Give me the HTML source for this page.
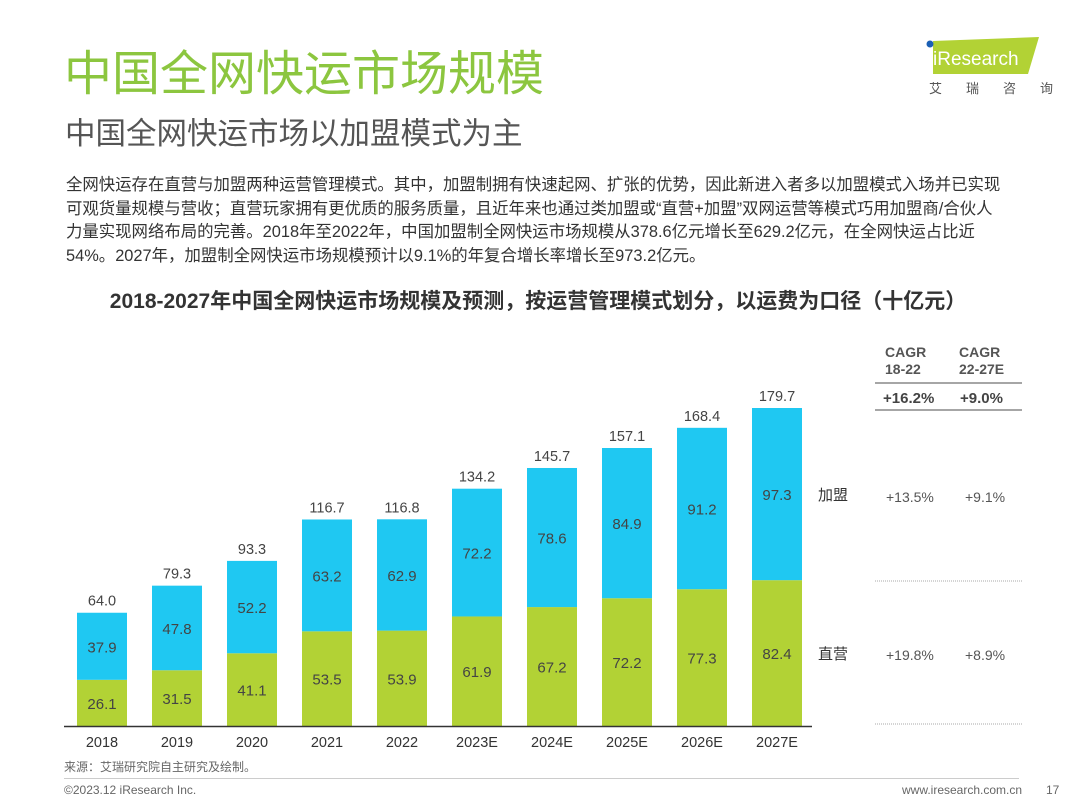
<!DOCTYPE html>
<html><head><meta charset="utf-8"><style>
body{margin:0;width:1080px;height:810px;background:#fff;position:relative;overflow:hidden;font-family:"Liberation Sans","Noto Sans CJK SC",sans-serif;}
.a{position:absolute;white-space:nowrap;}
</style></head><body>
<div class="a" style="left:64px;top:46px;font-size:48px;color:#8cc63f;line-height:58px;">中国全网快运市场规模</div>
<div class="a" style="left:65px;top:114px;font-size:30.5px;color:#555;line-height:40px;">中国全网快运市场以加盟模式为主</div>
<div class="a" style="left:925px;top:36px;width:115px;height:40px;">
<svg width="115" height="40"><polygon points="8,5 114,1 103,38 8,38" fill="#b2d235"/><circle cx="5" cy="8" r="3.5" fill="#1a5fb4"/><text x="8" y="29" font-size="19" fill="#fff" font-family="Liberation Sans">iResearch</text></svg></div>
<div class="a" style="left:929px;top:78px;font-size:13px;color:#555;letter-spacing:24px;">艾瑞咨询</div>
<div class="a" style="left:66px;top:174px;font-size:16.4px;line-height:23.5px;color:#333;white-space:normal;width:1000px;">全网快运存在直营与加盟两种运营管理模式。其中，加盟制拥有快速起网、扩张的优势，因此新进入者多以加盟模式入场并已实现<br>可观货量规模与营收；直营玩家拥有更优质的服务质量，且近年来也通过类加盟或“直营+加盟”双网运营等模式巧用加盟商/合伙人<br>力量实现网络布局的完善。2018年至2022年，中国加盟制全网快运市场规模从378.6亿元增长至629.2亿元，在全网快运占比近<br>54%。2027年，加盟制全网快运市场规模预计以9.1%的年复合增长率增长至973.2亿元。</div>
<div class="a" style="left:0;width:1076px;text-align:center;top:285px;font-size:21px;font-weight:bold;color:#333;">2018-2027年中国全网快运市场规模及预测，按运营管理模式划分，以运费为口径（十亿元）</div>
<svg id="chart" class="a" style="left:0;top:0" width="1080" height="810"></svg>
<div class="a" style="left:64px;top:758px;font-size:12px;color:#666;">来源：艾瑞研究院自主研究及绘制。</div>
<div class="a" style="left:64px;top:778px;width:955px;height:1px;background:#ccc;"></div>
<div class="a" style="left:64px;top:783px;font-size:12px;color:#666;">©2023.12 iResearch Inc.</div>
<div class="a" style="left:902px;top:783px;font-size:12px;color:#666;">www.iresearch.com.cn</div>
<div class="a" style="left:1046px;top:783px;font-size:12px;color:#666;">17</div>
<script>
const years=["2018","2019","2020","2021","2022","2023E","2024E","2025E","2026E","2027E"];
const direct=[26.1,31.5,41.1,53.5,53.9,61.9,67.2,72.2,77.3,82.4];
const franchise=[37.9,47.8,52.2,63.2,62.9,72.2,78.6,84.9,91.2,97.3];
const totals=[64.0,79.3,93.3,116.7,116.8,134.2,145.7,157.1,168.4,179.7];
const seriesNames=["加盟","直营"];
const cagrHead=["CAGR 18-22","CAGR 22-27E"];
const cagrTotal=["+16.2%","+9.0%"];
const cagrFranchise=["+13.5%","+9.1%"];
const cagrDirect=["+19.8%","+8.9%"];
const svg=document.getElementById('chart'),NS="http://www.w3.org/2000/svg";
const base=726,k=318/179.7,x0=102,step=75,bw=50;
const y=v=>base-v*k, xc=i=>x0+i*step;
function mk(t,a,txt){const e=document.createElementNS(NS,t);for(const p in a)e.setAttribute(p,a[p]);if(txt!=null)e.textContent=txt;svg.appendChild(e);return e;}
function fmt(v){return v.toFixed(1);}
years.forEach((yr,i)=>{
 const g=mk('rect',{x:xc(i)-bw/2,y:y(direct[i]),width:bw,height:direct[i]*k,fill:'#b2d235'});
 
 const b=mk('rect',{x:xc(i)-bw/2,y:y(direct[i]+franchise[i]),width:bw,height:franchise[i]*k,fill:'#1fc8f2'});
 
 const t1=mk('text',{x:xc(i),y:y(direct[i]/2)+6,'text-anchor':'middle','font-size':15,fill:'#444'},fmt(direct[i]));
 
 const t2=mk('text',{x:xc(i),y:y(direct[i]+franchise[i]/2)+6,'text-anchor':'middle','font-size':15,fill:'#444'},fmt(franchise[i]));
 
 const t3=mk('text',{x:xc(i),y:y(totals[i])-7,'text-anchor':'middle','font-size':14.5,fill:'#444'},fmt(totals[i]));
 
 const t4=mk('text',{x:xc(i),y:base+21,'text-anchor':'middle','font-size':14.5,fill:'#333'},yr);
 
});
const ax=mk('line',{x1:64,x2:812,y1:base+0.5,y2:base+0.5,stroke:'#333','stroke-width':1.5});

const lf=mk('text',{x:818,y:y(direct[9]+franchise[9]/2)+6,'font-size':15,fill:'#333'},seriesNames[0]);

const ld=mk('text',{x:818,y:y(direct[9]/2)+6,'font-size':15,fill:'#333'},seriesNames[1]);

const cx=[885,959];
cagrHead.forEach((h,j)=>{const p=h.split(' ');
 const a=mk('text',{x:cx[j],y:357,'font-size':14,'font-weight':'bold',fill:'#555'},p[0]);
 
 const b=mk('text',{x:cx[j],y:374,'font-size':14,'font-weight':'bold',fill:'#555'},p[1]);
 
 const c=mk('text',{x:cx[j]-2+(j?3:0),y:403,'font-size':15,'font-weight':'bold',fill:'#444'},cagrTotal[j]);
 
 const d=mk('text',{x:cx[j]+1+(j?5:0),y:502,'font-size':14,fill:'#555'},cagrFranchise[j]);
 
 const e=mk('text',{x:cx[j]+1+(j?5:0),y:660,'font-size':14,fill:'#555'},cagrDirect[j]);
 
});
[[383,'#888',1.5,''],[410,'#888',1.5,''],[581,'#aaa',1,'1,1'],[724,'#aaa',1,'1,1']].forEach(l=>{
 const e=mk('line',{x1:875,x2:1022,y1:l[0],y2:l[0],stroke:l[1],'stroke-width':l[2],'stroke-dasharray':l[3]});
 
});
</script>
</body></html>
